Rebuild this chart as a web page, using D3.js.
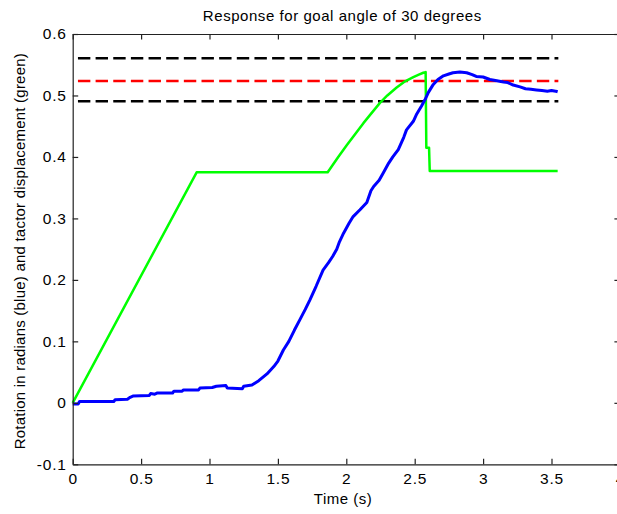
<!DOCTYPE html>
<html>
<head>
<meta charset="utf-8">
<script src="https://cdn.jsdelivr.net/npm/d3@7"></script>
<style>
  html, body { margin: 0; padding: 0; background: #ffffff; }
  svg { display: block; }
  text { font-family: "Liberation Sans", Arial, sans-serif; fill: #000; }
</style>
</head>
<body>
<svg id="chart" width="617" height="514"></svg>
<script>
// Rotation of the arm (blue), in radians
const rotTime = [0.00,0.04,0.05,0.30,0.31,0.40,0.42,0.44,0.56,0.57,0.60,0.62,0.73,0.74,0.80,0.81,0.92,0.93,1.02,1.05,1.12,1.13,1.24,1.25,1.31,1.36,1.42,1.47,1.50,1.54,1.58,1.62,1.66,1.70,1.735,1.78,1.83,1.87,1.90,1.93,1.95,1.98,2.02,2.05,2.10,2.15,2.18,2.20,2.24,2.27,2.31,2.34,2.38,2.42,2.44,2.49,2.515,2.55,2.575,2.60,2.636,2.67,2.71,2.75,2.78,2.83,2.88,2.92,2.95,3.00,3.05,3.10,3.15,3.18,3.22,3.27,3.31,3.35,3.39,3.43,3.47,3.50,3.53,3.545];
const rotValue = [-0.002,-0.002,0.002,0.002,0.005,0.006,0.009,0.011,0.012,0.015,0.014,0.016,0.016,0.019,0.019,0.021,0.021,0.024,0.025,0.027,0.028,0.024,0.023,0.027,0.029,0.036,0.047,0.059,0.068,0.086,0.100,0.118,0.135,0.152,0.168,0.190,0.216,0.228,0.238,0.250,0.262,0.276,0.292,0.303,0.314,0.326,0.345,0.352,0.362,0.374,0.390,0.400,0.412,0.432,0.444,0.458,0.470,0.483,0.493,0.505,0.518,0.526,0.532,0.535,0.537,0.538,0.537,0.534,0.531,0.530,0.526,0.524,0.522,0.521,0.517,0.514,0.511,0.510,0.509,0.508,0.507,0.508,0.507,0.506];

// Tactor displacement (green)
const tacTime = [0.00,0.906,1.864,1.941,2.003,2.125,2.18,2.246,2.30,2.368,2.43,2.49,2.53,2.563,2.58,2.585,2.605,2.61,3.545];
const tacValue = [0.000,0.375,0.375,0.400,0.419,0.455,0.470,0.488,0.500,0.513,0.523,0.530,0.534,0.537,0.538,0.415,0.415,0.377,0.377];

// Goal angle and tolerance band
const goalTime = [0.00,3.55];
const goalValue = 0.5236;
const bandValues = [0.5605,0.4905];

const xTicks = [0,0.5,1,1.5,2,2.5,3,3.5,4];
const xTickLabels = ["0","0.5","1","1.5","2","2.5","3","3.5","4"];
const yTicks = [-0.1,0,0.1,0.2,0.3,0.4,0.5,0.6];
const yTickLabels = ["-0.1","0","0.1","0.2","0.3","0.4","0.5","0.6"];

const titleText = "Response for goal angle of 30 degrees";
const xLabel = "Time (s)";
const yLabel = "Rotation in radians (blue) and tactor displacement (green)";

const svg = d3.select("#chart");
const L = 72.7, R = 619.9, T = 34, B = 464.3;
const x = d3.scaleLinear().domain([0,4]).range([L,R]);
const y = d3.scaleLinear().domain([-0.1,0.6]).range([B,T]);

svg.append("rect").attr("width",617).attr("height",514).attr("fill","#fff");

const line = d3.line().x(d => x(d[0])).y(d => y(d[1]));

// dashed reference lines
const dash = "12.4,5.25";
bandValues.forEach(v => {
  svg.append("path").datum(goalTime.map(t => [t,v]))
    .attr("d",line).attr("fill","none").attr("stroke","#000")
    .attr("stroke-width",2.4).attr("stroke-dasharray",dash).attr("stroke-dashoffset",12.4);
});
svg.append("path").datum(goalTime.map(t => [t,goalValue]))
  .attr("d",line).attr("fill","none").attr("stroke","#ff0000")
  .attr("stroke-width",2.4).attr("stroke-dasharray",dash).attr("stroke-dashoffset",12.4);

// tactor displacement
svg.append("path").datum(tacTime.map((t,i) => [t,tacValue[i]]))
  .attr("d",line).attr("fill","none").attr("stroke","#00ff00")
  .attr("stroke-width",2.5).attr("stroke-linejoin","round");

// rotation
svg.append("path").datum(rotTime.map((t,i) => [t,rotValue[i]]))
  .attr("d",line).attr("fill","none").attr("stroke","#0000ff")
  .attr("stroke-width",3).attr("stroke-linejoin","round");

// axes: ticks point inward on all four sides
const tk = 5.5;
const axB = svg.append("g").attr("transform",`translate(0,${B})`)
  .call(d3.axisBottom(x).tickValues(xTicks).tickFormat((d,i) => xTickLabels[i]).tickSizeInner(-tk).tickSizeOuter(0).tickPadding(9));
const axT = svg.append("g").attr("transform",`translate(0,${T})`)
  .call(d3.axisTop(x).tickValues(xTicks).tickFormat("").tickSizeInner(-tk).tickSizeOuter(0));
const axL = svg.append("g").attr("transform",`translate(${L},0)`)
  .call(d3.axisLeft(y).tickValues(yTicks).tickFormat((d,i) => yTickLabels[i]).tickSizeInner(-tk).tickSizeOuter(0).tickPadding(6));
const axR = svg.append("g").attr("transform",`translate(${R},0)`)
  .call(d3.axisRight(y).tickValues(yTicks).tickFormat("").tickSizeInner(-tk).tickSizeOuter(0));

[axB,axT,axL,axR].forEach(g => {
  g.select(".domain").attr("stroke","#222").attr("stroke-width",1.2);
  g.selectAll(".tick line").attr("stroke","#222").attr("stroke-width",1.2);
  g.selectAll("text").style("font-family","'Liberation Sans', Arial, sans-serif")
    .style("font-size","15.5px").style("letter-spacing","0.8px").attr("fill","#000");
});

svg.append("text").attr("x",(L+R)/2 - 4).attr("y",21).attr("text-anchor","middle")
  .style("font-size","15px").style("letter-spacing","0.55px").text(titleText);
svg.append("text").attr("x",343).attr("y",504).attr("text-anchor","middle")
  .style("font-size","15px").style("letter-spacing","0.5px").text(xLabel);
svg.append("text").attr("transform",`translate(25,${(T+B)/2+2}) rotate(-90)`).attr("text-anchor","middle")
  .style("font-size","15px").style("letter-spacing","0.22px").text(yLabel);
</script>
</body>
</html>
